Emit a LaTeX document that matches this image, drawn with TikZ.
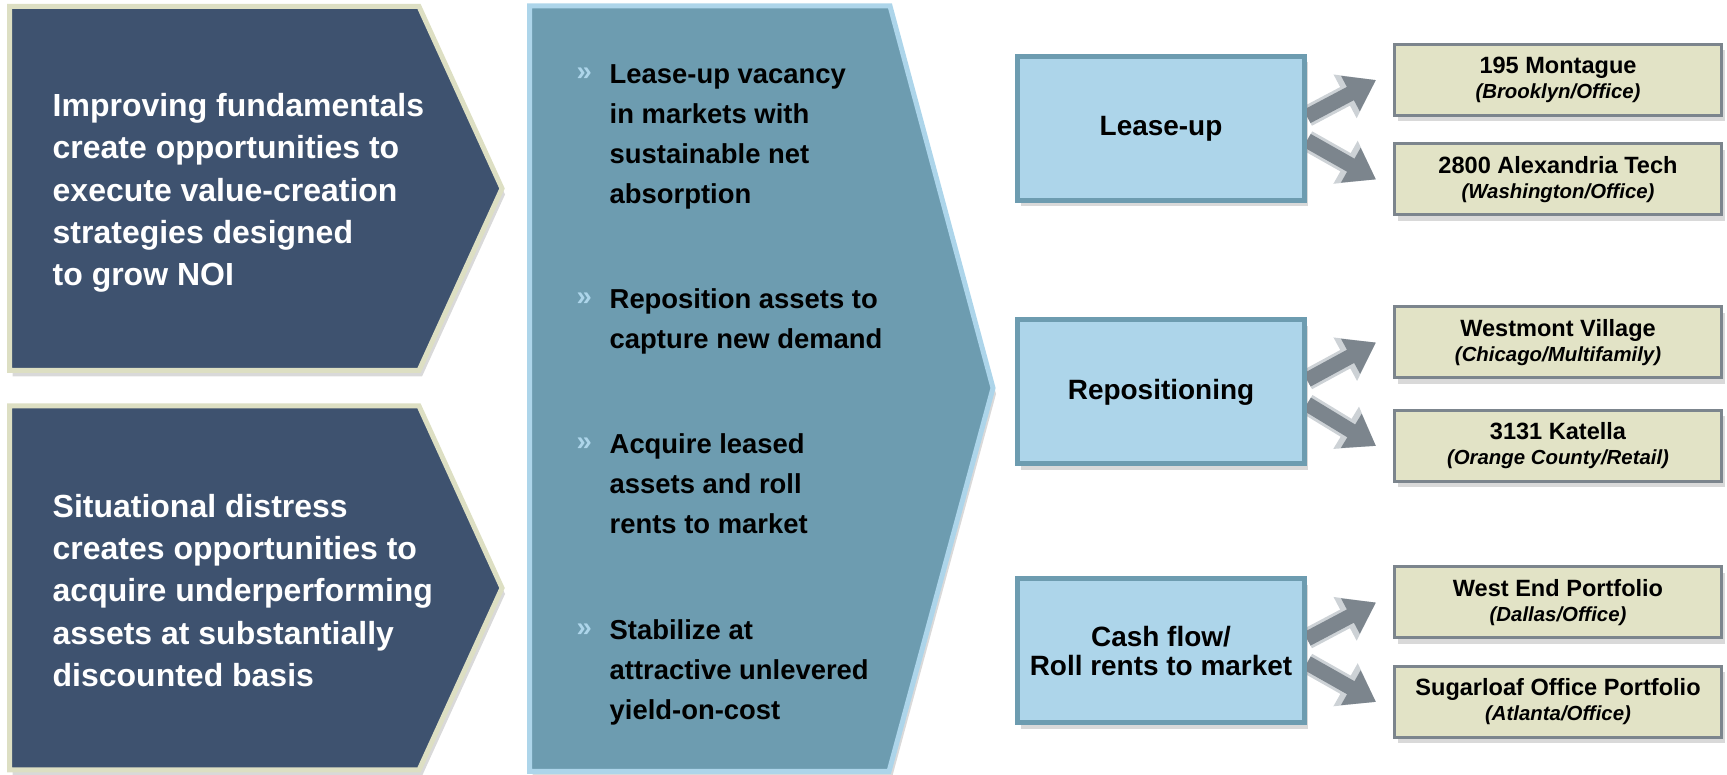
\documentclass[tikz,border=0pt]{standalone}
\usepackage{fontspec}
\setmainfont{Liberation Sans}
\usepackage{xcolor}
\usepackage{tikz}
\usetikzlibrary{arrows.meta,shadows,backgrounds}
\definecolor{VCNavy}{HTML}{3E526F}
\definecolor{VCSand}{HTML}{DDDFC3}
\definecolor{VCTeal}{HTML}{6D9CB0}
\definecolor{VCSky}{HTML}{ADD5EA}
\definecolor{VCPale}{HTML}{E2E3C6}
\definecolor{VCGrey}{HTML}{7C858D}
\definecolor{VCMist}{HTML}{CDD2D6}

\begin{document}
\begin{tikzpicture}[x=1cm,y=1cm,
  soft/.style={drop shadow={shadow xshift=0.03cm,shadow yshift=-0.06cm,opacity=0.3}},
  chevron/.style={fill=VCNavy,draw=VCSand,line width=0.05cm,soft},
  panel/.style={fill=VCTeal,draw=VCSky,line width=0.05cm,soft},
  idea/.style={anchor=west,inner sep=0pt,align=left,text=white,font=\bfseries\fontsize{9.1}{12.05}\selectfont},
  point/.style={anchor=north west,inner sep=0pt,align=left,text=black,font=\bfseries\fontsize{7.8}{11.34}\selectfont},
  bullettip/.style={anchor=base west,inner sep=0pt,text=VCSky,font=\bfseries\fontsize{7.8}{9}\selectfont},
  strategy/.style={draw=VCTeal,fill=VCSky,line width=0.05cm,minimum width=2.87cm,minimum height=1.44cm,inner sep=0pt,align=center,font=\bfseries\fontsize{7.95}{8.25}\selectfont,soft},
  asset/.style={draw=VCGrey,fill=VCPale,line width=0.03cm,minimum width=3.27cm,minimum height=0.71cm,inner sep=0pt,align=center,font=\bfseries\fontsize{6.7}{7.1}\selectfont,soft},
  fatarrow/.style={preaction={draw=VCMist,line width=0.21cm,-{Triangle[length=0.35cm,width=0.47cm]}},draw=VCGrey,line width=0.15cm,-{Triangle[length=0.29cm,width=0.38cm]}}
]
\path[use as bounding box] (0,0) rectangle (17.27,7.75);
% market conditions
\draw[chevron] (0.095,7.685) -- (4.19,7.685) -- (5.02,5.865) -- (4.19,4.045) -- (0.095,4.045) -- cycle;
\draw[chevron] (0.095,3.69) -- (4.19,3.69) -- (5.02,1.87) -- (4.19,0.05) -- (0.095,0.05) -- cycle;
\node[idea] (grow) at (0.52,5.82) {Improving fundamentals\\create opportunities to\\execute value-creation\\strategies designed\\to grow NOI};
\node[idea] (distress) at (0.52,1.845) {Situational distress\\creates opportunities to\\acquire underperforming\\assets at substantially\\discounted basis};
% business plan
\draw[panel] (5.295,7.69) -- (8.90,7.69) -- (9.93,3.87) -- (8.89,0.035) -- (5.295,0.035) -- cycle;
\node[bullettip] (tip1) at (5.76,6.94) {»};
\node[point] (vacancy) at (6.09,7.11) {Lease-up vacancy\\in markets with\\sustainable net\\absorption};
\node[bullettip] (tip2) at (5.76,4.69) {»};
\node[point] (demand) at (6.09,4.87) {Reposition assets to\\capture new demand};
\node[bullettip] (tip3) at (5.76,3.24) {»};
\node[point] (leased) at (6.09,3.42) {Acquire leased\\assets and roll\\rents to market};
\node[bullettip] (tip4) at (5.76,1.38) {»};
\node[point] (yield) at (6.09,1.56) {Stabilize at\\attractive unlevered\\yield-on-cost};
% strategies
\node[strategy] (leaseup) at (11.61,6.465) {Lease-up};
\node[strategy] (repos) at (11.61,3.83) {Repositioning};
\node[strategy] (cashflow) at (11.61,1.24) {Cash flow/\\Roll rents to market};
% examples
\node[asset] (mont) at (15.58,6.95) {195 Montague\\{\fontsize{5.8}{7.1}\selectfont\itshape (Brooklyn/Office)}};
\node[asset] (alex) at (15.58,5.955) {2800 Alexandria Tech\\{\fontsize{5.8}{7.1}\selectfont\itshape (Washington/Office)}};
\node[asset] (westmont) at (15.58,4.325) {Westmont Village\\{\fontsize{5.8}{7.1}\selectfont\itshape (Chicago/Multifamily)}};
\node[asset] (katella) at (15.58,3.29) {3131 Katella\\{\fontsize{5.8}{7.1}\selectfont\itshape (Orange County/Retail)}};
\node[asset] (westend) at (15.58,1.725) {West End Portfolio\\{\fontsize{5.8}{7.1}\selectfont\itshape (Dallas/Office)}};
\node[asset] (sugar) at (15.58,0.73) {Sugarloaf Office Portfolio\\{\fontsize{5.8}{7.1}\selectfont\itshape (Atlanta/Office)}};
\begin{scope}[on background layer]
\draw[fatarrow] ([yshift=0.12cm]leaseup.east) -- ([xshift=-0.17cm]mont.west);
\draw[fatarrow] ([yshift=-0.12cm]leaseup.east) -- ([xshift=-0.17cm]alex.west);
\draw[fatarrow] ([yshift=0.12cm]repos.east) -- ([xshift=-0.17cm]westmont.west);
\draw[fatarrow] ([yshift=-0.12cm]repos.east) -- ([xshift=-0.17cm]katella.west);
\draw[fatarrow] ([yshift=0.12cm]cashflow.east) -- ([xshift=-0.17cm]westend.west);
\draw[fatarrow] ([yshift=-0.12cm]cashflow.east) -- ([xshift=-0.17cm]sugar.west);
\end{scope}
\end{tikzpicture}
\end{document}
